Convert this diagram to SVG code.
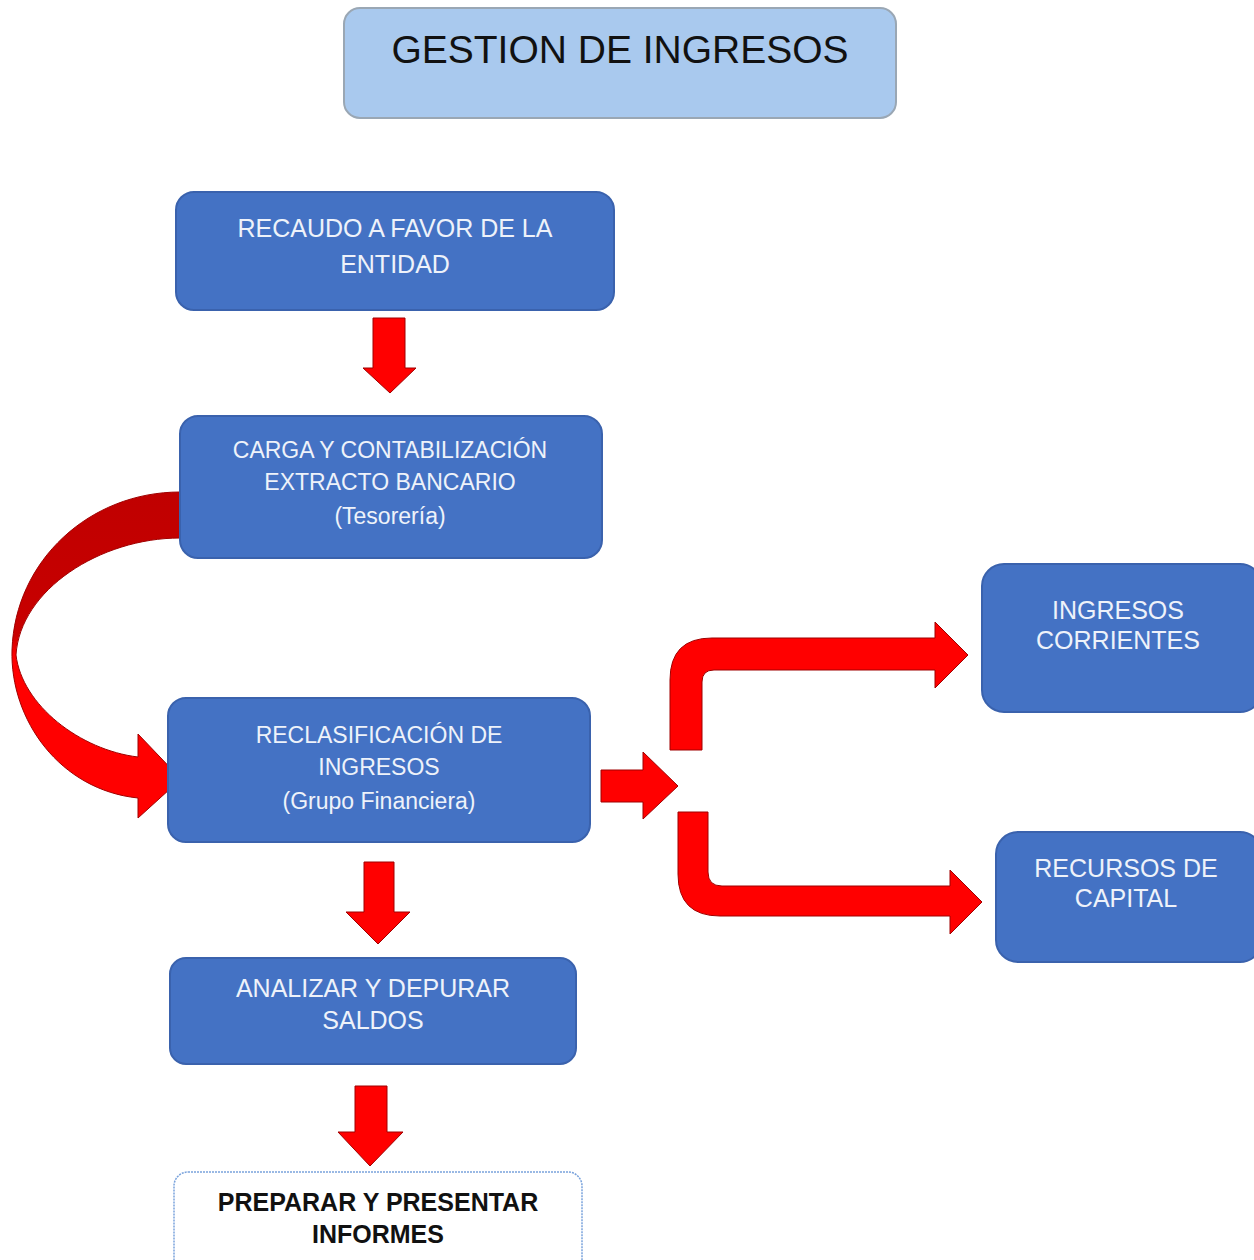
<svg xmlns="http://www.w3.org/2000/svg" width="1254" height="1260" viewBox="0 0 1254 1260">
<defs>
<style>
.node{fill:#4472c4;stroke:#3a62ad;stroke-width:2}
.t{font-family:"Liberation Sans",Arial,sans-serif;fill:#eef2fa;text-anchor:middle}
.arr{fill:#ff0000;stroke:#a00000;stroke-width:1}
</style>
<linearGradient id="curveGrad" x1="0" y1="490" x2="0" y2="820" gradientUnits="userSpaceOnUse">
<stop offset="0" stop-color="#c00000"/>
<stop offset="0.44" stop-color="#c80000"/>
<stop offset="0.5" stop-color="#ff0000"/>
<stop offset="1" stop-color="#ff0000"/>
</linearGradient>
</defs>
<rect width="1254" height="1260" fill="#ffffff"/>

<g id="title">
<rect x="344" y="8" width="552" height="110" rx="16" fill="#a9c9ee" stroke="#9aa7b4" stroke-width="2"/>
<text x="620" y="63" font-family="Liberation Sans,Arial,sans-serif" font-size="39" fill="#111" text-anchor="middle">GESTION DE INGRESOS</text>
</g>

<g id="connectors">
<path class="arr" d="M373 318 L405 318 L405 368 L416 368 L390 393 L363 368 L373 368 Z"/>
<path d="M180 492 C 90 492, 15 560, 12 650 C 10 720, 60 790, 138 798 L 138 818 L 181 779 L 138 734 L 138 757 C 80 750, 22 705, 16 655 C 20 590, 100 538, 180 538 Z" fill="url(#curveGrad)" stroke="#a00000" stroke-width="1"/>
<path class="arr" d="M601 770 L643 770 L643 752 L678 786 L643 819 L643 802 L601 802 Z"/>
<path class="arr" d="M670 750 L670 680 Q670 638 712 638 L935 638 L935 622 L968 655 L935 688 L935 670 L714 670 Q702 670 702 682 L702 750 Z"/>
<path class="arr" d="M678 812 L708 812 L708 872 Q708 886 722 886 L950 886 L950 870 L982 902 L950 934 L950 916 L720 916 Q678 916 678 874 Z"/>
<path class="arr" d="M364 862 L394 862 L394 912 L410 912 L378 944 L346 912 L364 912 Z"/>
<path class="arr" d="M355 1086 L387 1086 L387 1132 L403 1132 L370 1166 L338 1132 L355 1132 Z"/>
</g>

<g id="n1">
<rect class="node" x="176" y="192" width="438" height="118" rx="18"/>
<text class="t" x="395" y="237" font-size="25">RECAUDO A FAVOR DE LA</text>
<text class="t" x="395" y="273" font-size="25">ENTIDAD</text>
</g>

<g id="n2">
<rect class="node" x="180" y="416" width="422" height="142" rx="18"/>
<text class="t" x="390" y="458" font-size="23">CARGA Y CONTABILIZACIÓN</text>
<text class="t" x="390" y="490" font-size="23">EXTRACTO BANCARIO</text>
<text class="t" x="390" y="524" font-size="23">(Tesorería)</text>
</g>

<g id="n3">
<rect class="node" x="168" y="698" width="422" height="144" rx="18"/>
<text class="t" x="379" y="743" font-size="23">RECLASIFICACIÓN DE</text>
<text class="t" x="379" y="775" font-size="23">INGRESOS</text>
<text class="t" x="379" y="809" font-size="23">(Grupo Financiera)</text>
</g>

<g id="n4">
<rect class="node" x="982" y="564" width="280" height="148" rx="22"/>
<text class="t" x="1118" y="619" font-size="25">INGRESOS</text>
<text class="t" x="1118" y="649" font-size="25">CORRIENTES</text>
</g>

<g id="n5">
<rect class="node" x="996" y="832" width="266" height="130" rx="22"/>
<text class="t" x="1126" y="877" font-size="25">RECURSOS DE</text>
<text class="t" x="1126" y="907" font-size="25">CAPITAL</text>
</g>

<g id="n6">
<rect class="node" x="170" y="958" width="406" height="106" rx="16"/>
<text class="t" x="373" y="997" font-size="25">ANALIZAR Y DEPURAR</text>
<text class="t" x="373" y="1029" font-size="25">SALDOS</text>
</g>

<g id="n7">
<rect x="174" y="1172" width="408" height="110" rx="14" fill="#ffffff" stroke="#7aa3dc" stroke-width="1.5" stroke-dasharray="2 1"/>
<text x="378" y="1211" font-family="Liberation Sans,Arial,sans-serif" font-size="25" font-weight="bold" fill="#111" text-anchor="middle">PREPARAR Y PRESENTAR</text>
<text x="378" y="1243" font-family="Liberation Sans,Arial,sans-serif" font-size="25" font-weight="bold" fill="#111" text-anchor="middle">INFORMES</text>
</g>
</svg>
